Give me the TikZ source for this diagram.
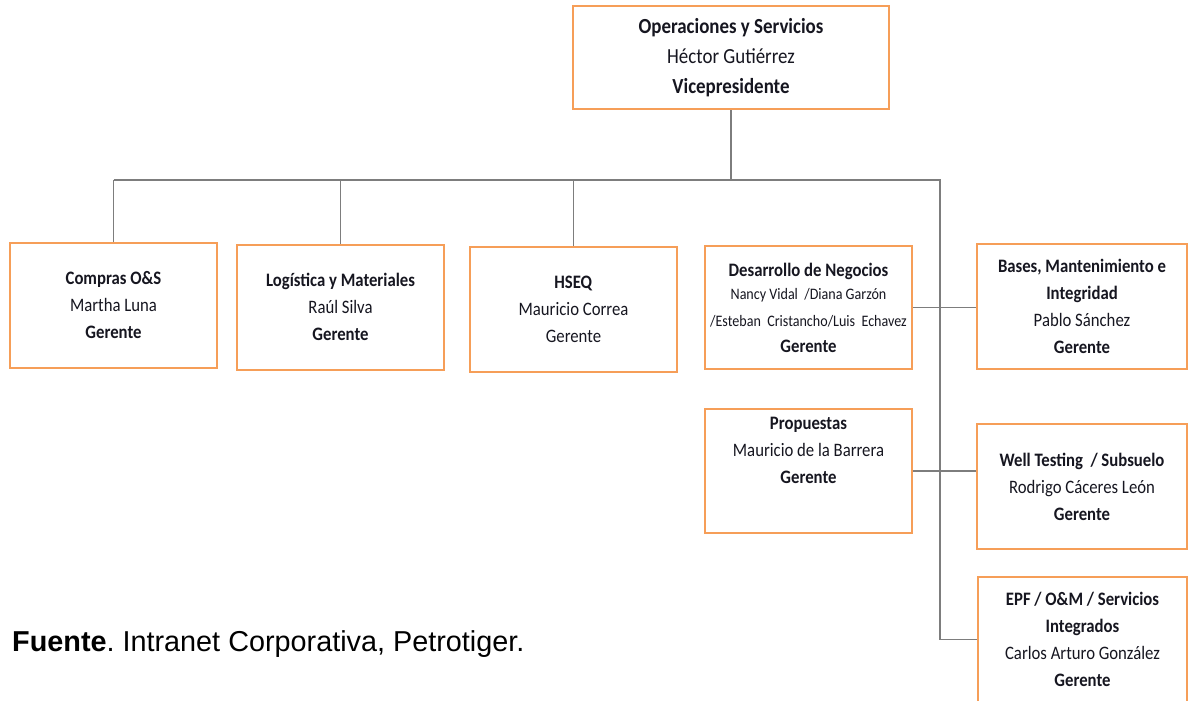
\documentclass[tikz,border=0pt]{standalone}
\usepackage{fontspec}
\setmainfont{Carlito}[FakeStretch=0.88]
\newfontfamily\notefont{Liberation Sans}
\usetikzlibrary{positioning}
\definecolor{boxline}{RGB}{246,158,88}
\definecolor{linkgray}{RGB}{125,125,125}
\definecolor{ink}{RGB}{22,22,32}
\newcommand{\smallnames}{\fontsize{16}{24}\selectfont}
\newcommand{\boxsize}{\fontsize{19}{27}\selectfont}
\tikzset{
  unit/.style={draw=boxline, line width=2pt, fill=white, align=center,
    text=ink, inner sep=0pt, font=\boxsize},
  std/.style={unit, minimum width=207pt, minimum height=125pt},
  wide/.style={unit, minimum width=210pt, minimum height=125pt},
  link/.style={draw=linkgray, line width=1.9pt},
}
\frenchspacing
\begin{document}
\begin{tikzpicture}[x=1pt,y=-1pt]
\useasboundingbox[fill=white] (0,0) rectangle (1188,701);

% top of the chart
\node[unit, minimum width=316pt, minimum height=103pt, font=\fontsize{21.5}{30}\selectfont]
  (vp) at (731,57.5)
  {\textbf{Operaciones y Servicios}\\Héctor Gutiérrez\\\textbf{Vicepresidente}};

% first row of managers
\node[std] (compras) at (113.5,305)
  {\textbf{Compras O\&S}\\Martha Luna\\\textbf{Gerente}};
\node[std] (logistica) at (340.5,307)
  {\textbf{Logística y Materiales}\\Raúl Silva\\\textbf{Gerente}};
\node[std] (hseq) at (573.5,309)
  {\textbf{HSEQ}\\Mauricio Correa\\Gerente};
\node[std, minimum height=123pt] (desarrollo) at (808.5,307.5)
  {\textbf{Desarrollo de Negocios}\\[-4pt]
   \smallnames Nancy Vidal\ \ /Diana Garzón\\
   \smallnames /Esteban\ \ Cristancho/Luis\ \ Echavez\\[-1pt]
   \boxsize\textbf{Gerente}};
\node[wide] (bases) at (1082,306.5)
  {\textbf{Bases, Mantenimiento e}\\\textbf{Integridad}\\Pablo Sánchez\\\textbf{Gerente}};

% lower managers
\node[std, minimum height=124pt] (propuestas) at (808.5,471)
  {\textbf{Propuestas}\\Mauricio de la Barrera\\\textbf{Gerente}\\[14pt]\mbox{}};
\node[wide] (well) at (1082,486.5)
  {\textbf{Well Testing\ \ / Subsuelo}\\Rodrigo Cáceres León\\\textbf{Gerente}};
\node[wide, minimum width=209pt] (epf) at (1082.5,639.5)
  {\textbf{EPF / O\&M / Servicios}\\\textbf{Integrados}\\Carlos Arturo González\\\textbf{Gerente}};

% connectors
\coordinate (bus) at (731,180);
\coordinate (spine) at (940,180);
\draw[link] (vp.south) -- (bus);
\draw[link] (compras.north |- bus) -- (spine) -- (spine |- epf.west) -- (epf.west);
\draw[link] (compras.north |- bus) -- (compras.north);
\draw[link] (logistica.north |- bus) -- (logistica.north);
\draw[link] (hseq.north |- bus) -- (hseq.north);
\draw[link] (desarrollo.east) -- (desarrollo.east -| bases.west);
\draw[link] (propuestas.east) -- (propuestas.east -| well.west);

% source note
\node[anchor=base west, inner sep=0pt, font=\notefont\fontsize{28.8}{34}\selectfont]
  (fuente) at (12,651) {\textbf{Fuente}. Intranet Corporativa, Petrotiger.};
\end{tikzpicture}
\end{document}
